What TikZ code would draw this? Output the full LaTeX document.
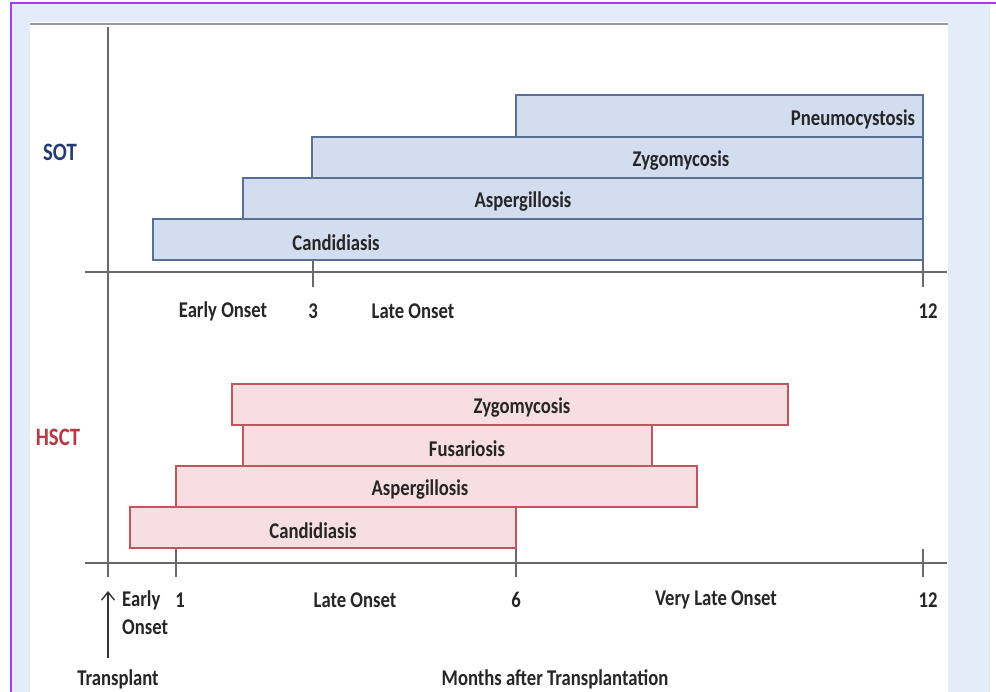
\documentclass[tikz,border=0pt]{standalone}
\usepackage{fontspec}
\usepackage{tikz}
\usetikzlibrary{arrows.meta,calc,positioning}
\newfontfamily\calfont[FakeStretch=0.83]{Carlito}
\definecolor{sotfill}{RGB}{210,222,240}
\definecolor{sotline}{RGB}{88,112,152}
\definecolor{hsctfill}{RGB}{247,222,225}
\definecolor{hsctline}{RGB}{195,85,95}
\definecolor{sottext}{RGB}{35,60,115}
\definecolor{hscttext}{RGB}{185,55,65}
\definecolor{axisgray}{RGB}{105,105,105}
\definecolor{panelbg}{RGB}{227,236,248}
\definecolor{frame}{RGB}{165,60,240}

\begin{document}
\begin{tikzpicture}[x=1pt,y=-1pt,
  lbl/.style={font=\calfont\bfseries\fontsize{22.5}{24}\selectfont,inner sep=0pt,text=black!85},
  sotbar/.style={draw=sotline,fill=sotfill,line width=1.6pt},
  hsctbar/.style={draw=hsctline,fill=hsctfill,line width=1.4pt},
  axis/.style={draw=axisgray,line width=1.5pt}]
  \useasboundingbox (0,0) rectangle (996,692);
  % background and frame
  \fill[panelbg] (11,3) rectangle (990,692);
  \fill[white] (30,22) rectangle (948,692);
  \draw[frame,line width=2pt] (11,692) -- (11,3) -- (996,3);
  \draw[black!40,line width=2.5pt] (30,24) -- (948,24);
  % SOT bars
  \foreach \a/\y/\h/\t/\c/\n in {516/95/42/Pneumocystosis/853/pn,312/137/41/Zygomycosis/681/zy,243/178/41/Aspergillosis/523/as,153/219/41/Candidiasis/336/ca} {\draw[sotbar] (\a,\y) rectangle (923,\y+\h); \node[lbl] (sot-\n) at (\c,\y+24) {\t};}
  % HSCT bars
  \foreach \a/\b/\y/\t/\c/\n in {232/788/384/Zygomycosis/522/zy,243/652/425/Fusariosis/467/fu,176/697/466/Aspergillosis/420/as,130/516/507/Candidiasis/313/ca} {\draw[hsctbar] (\a,\y) rectangle (\b,\y+41); \node[lbl] (hsct-\n) at (\c,\y+24) {\t};}
  % axes
  \coordinate (vTop) at (108,27); \coordinate (vBot) at (108,577);
  \coordinate (sotL) at (85,272); \coordinate (sotR) at (947,272);
  \coordinate (hsL) at (85,563); \coordinate (hsR) at (947,563);
  \draw[axis] (vTop) -- (vBot);
  \draw[axis] (sotL) -- (sotR);
  \draw[axis] (hsL) -- (hsR);
  \foreach \x in {313,923} {\draw[axis] (\x,260) -- (\x,287);}
  \foreach \x/\t in {176/549,516/549,923/549} {\draw[axis] (\x,\t) -- (\x,577);}
  % group labels
  \node[lbl,font=\calfont\bfseries\fontsize{25}{27}\selectfont,text=sottext] (sot) at (60,152) {SOT};
  \node[lbl,font=\calfont\bfseries\fontsize{25}{27}\selectfont,text=hscttext] (hsct) at (58,437) {HSCT};
  % SOT axis labels
  \foreach \x/\t/\n in {223/Early Onset/early,313/3/three,413/Late Onset/late,928/12/twelve} {\node[lbl] (sotax-\n) at (\x,311) {\t};}
  % HSCT axis labels
  \foreach \x/\t/\n in {180/1/one,355/Late Onset/late,516/6/six,716/Very Late Onset/vlate,928/12/twelve} {\node[lbl] (hsax-\n) at (\x,600) {\t};}
  \node[lbl,anchor=west] (hsax-early) at (122,600) {Early};
  \node[lbl,anchor=west] (hsax-onset) at (122,627) {Onset};
  \node[lbl] (transplant) at (118,679) {Transplant};
  \node[lbl] (months) at (555,679) {Months after Transplantation};
  \coordinate (arrTail) at (108,658); \coordinate (arrTip) at (108,591);
  \draw[black!80,line width=1.4pt,-{Straight Barb[length=8pt,width=13pt]}] (arrTail) -- (arrTip);
\end{tikzpicture}
\end{document}
